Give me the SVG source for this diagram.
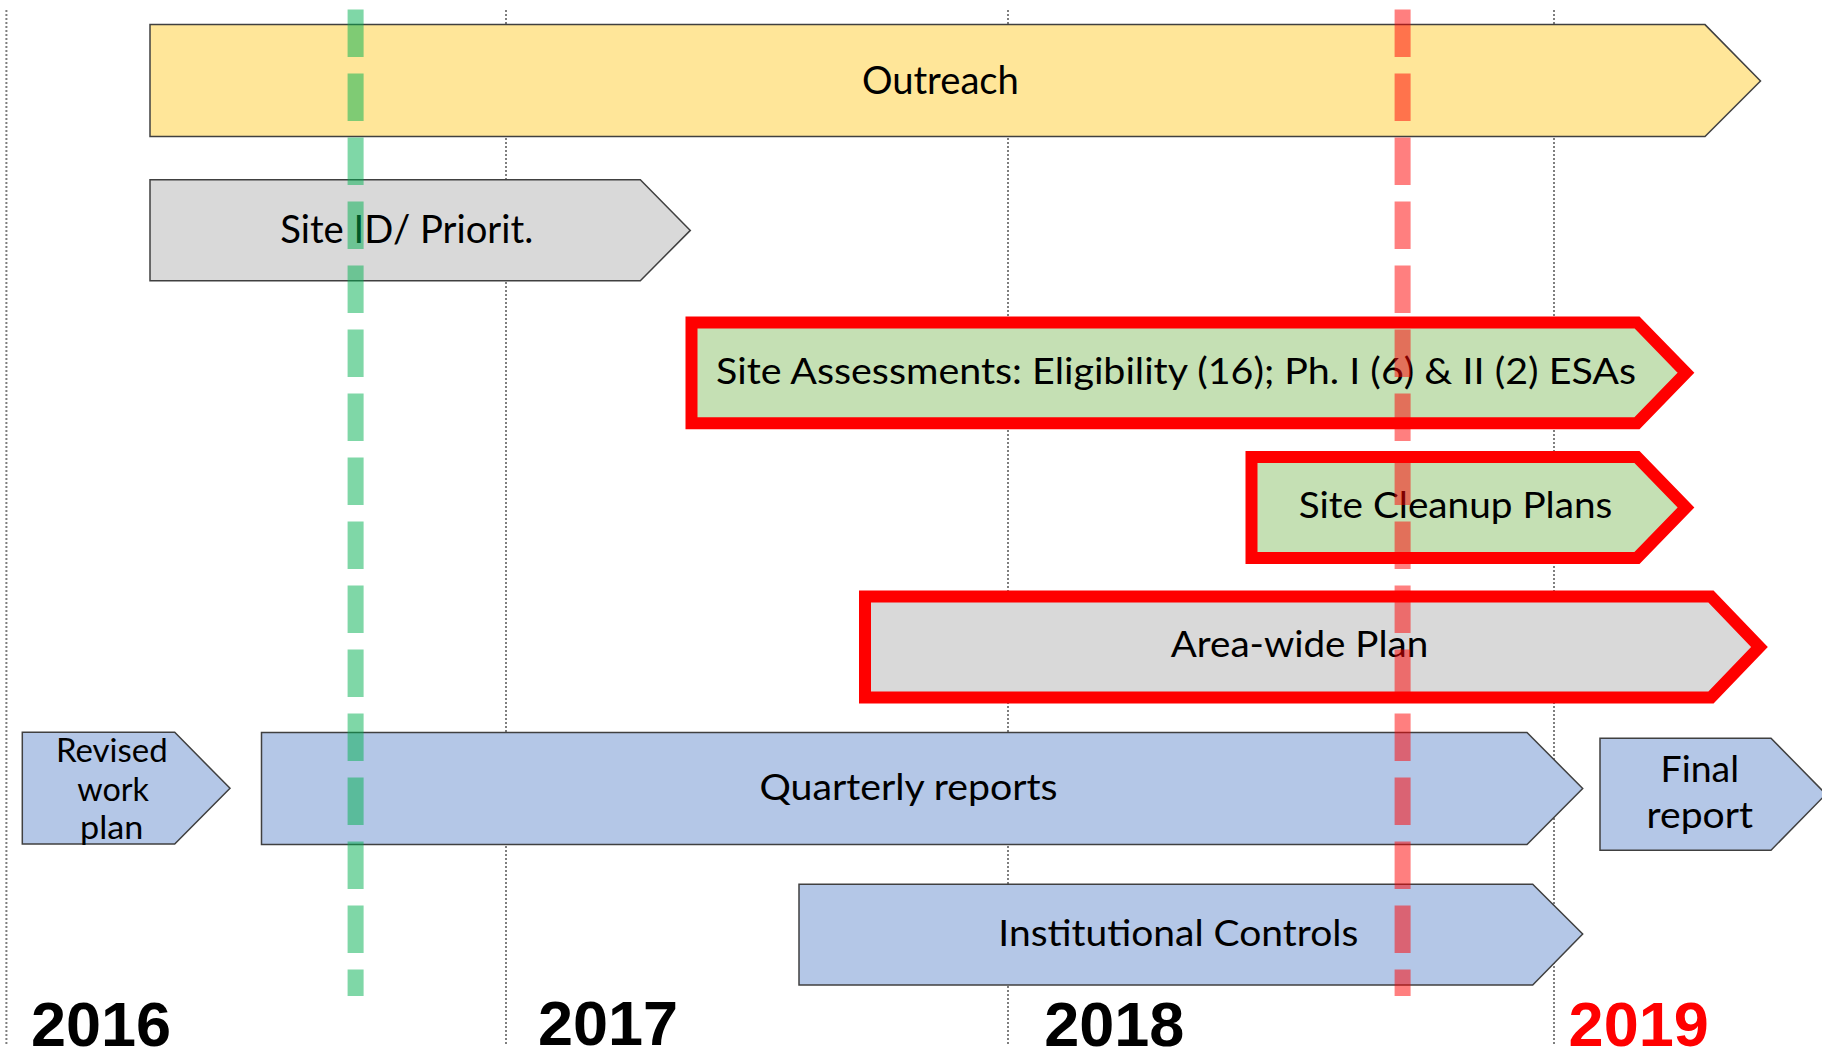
<svg xmlns="http://www.w3.org/2000/svg" width="1822" height="1058" viewBox="0 0 1822 1058">
<style>
.grid{stroke:#7f7f7f;stroke-width:2;stroke-dasharray:2 2;fill:none}
.bar{stroke:#404040;stroke-width:1.5;stroke-linejoin:miter}
.hl{stroke:#ff0000;stroke-width:12;stroke-linejoin:miter;stroke-miterlimit:10}
.yel{fill:#ffe699}
.gry{fill:#d9d9d9}
.grn{fill:#c5e0b4}
.blu{fill:#b4c7e7}
.lbl{font-family:Lato,"Open Sans","Liberation Sans",sans-serif;fill:#000;text-anchor:middle}
.yr{font-family:"Liberation Sans",Arial,sans-serif;font-weight:bold;font-size:63px;text-anchor:middle;fill:#000}
.mark{fill:none;stroke-width:16;stroke-dasharray:47.7 16.3;stroke-opacity:0.5}
</style>
<rect width="1822" height="1058" fill="#ffffff"/>
<g id="gridlines">
<line class="grid" x1="6.4" y1="10" x2="6.4" y2="1044"/>
<line class="grid" x1="506" y1="10" x2="506" y2="1044"/>
<line class="grid" x1="1008" y1="10" x2="1008" y2="1044"/>
<line class="grid" x1="1554" y1="10" x2="1554" y2="1044"/>
</g>
<g id="outreach">
<path class="bar yel" d="M150,24.6 H1705 L1760.5,81 L1705,136.6 H150 Z"/>
<text class="lbl" x="940.4" y="93.8" font-size="38" textLength="157" lengthAdjust="spacingAndGlyphs">Outreach</text>
</g>
<g id="site-id">
<path class="bar gry" d="M150,179.8 H640.3 L690.3,230.4 L640.3,280.7 H150 Z"/>
<text class="lbl" x="406.7" y="242.9" font-size="39" textLength="253" lengthAdjust="spacingAndGlyphs">Site ID/ Priorit.</text>
</g>
<g id="site-assessments">
<path class="hl grn" d="M691.5,322.4 H1637 L1686,372.8 L1637,423.2 H691.5 Z"/>
<text class="lbl" x="1176" y="383.9" font-size="37" textLength="920" lengthAdjust="spacingAndGlyphs">Site Assessments: Eligibility (16); Ph. I (6) &amp; II (2) ESAs</text>
</g>
<g id="site-cleanup">
<path class="hl grn" d="M1251.5,457.1 H1637 L1686,507.5 L1637,557.9 H1251.5 Z"/>
<text class="lbl" x="1455.5" y="517.9" font-size="37" textLength="313.7" lengthAdjust="spacingAndGlyphs">Site Cleanup Plans</text>
</g>
<g id="area-wide">
<path class="hl gry" d="M865,596.6 H1711 L1759.5,647 L1711,697.5 H865 Z"/>
<text class="lbl" x="1299.5" y="657.2" font-size="36" textLength="257.5" lengthAdjust="spacingAndGlyphs">Area-wide Plan</text>
</g>
<g id="revised-work-plan">
<path class="bar blu" d="M22.3,732.3 H174.7 L230,788.3 L174.7,844 H22.3 Z"/>
<text class="lbl" font-size="32"><tspan x="111.8" y="762" textLength="111.7" lengthAdjust="spacingAndGlyphs">Revised</tspan><tspan x="113.2" y="800.5" textLength="71.7" lengthAdjust="spacingAndGlyphs">work</tspan><tspan x="111.7" y="839" textLength="63.3" lengthAdjust="spacingAndGlyphs">plan</tspan></text>
</g>
<g id="quarterly-reports">
<path class="bar blu" d="M261.5,732.5 H1527 L1582.7,788.5 L1527,844.5 H261.5 Z"/>
<text class="lbl" x="908.5" y="799.9" font-size="37" textLength="298" lengthAdjust="spacingAndGlyphs">Quarterly reports</text>
</g>
<g id="final-report">
<path class="bar blu" d="M1600,738.2 H1771 L1826,794.2 L1771,850.2 H1600 Z"/>
<text class="lbl" font-size="36"><tspan x="1699.8" y="782" textLength="78.4" lengthAdjust="spacingAndGlyphs">Final</tspan><tspan x="1699.8" y="827.6" textLength="106.4" lengthAdjust="spacingAndGlyphs">report</tspan></text>
</g>
<g id="institutional-controls">
<path class="bar blu" d="M799,884.3 H1532.7 L1582.7,933.9 L1532.7,985.1 H799 Z"/>
<text class="lbl" x="1178.3" y="945.7" font-size="37" textLength="360" lengthAdjust="spacingAndGlyphs">Institutional Controls</text>
</g>
<g id="years">
<text class="yr" x="101" y="1046">2016</text>
<text class="yr" x="608" y="1045">2017</text>
<text class="yr" x="1114.3" y="1046">2018</text>
<text class="yr" x="1638.7" y="1046" fill="#ff0000" style="fill:#ff0000">2019</text>
</g>
<g id="connectors">
<line class="mark" x1="355.6" y1="9.4" x2="355.6" y2="996" stroke="#00b050"/>
<line class="mark" x1="1402.6" y1="9.4" x2="1402.6" y2="996" stroke="#ff0000"/>
</g>
</svg>
